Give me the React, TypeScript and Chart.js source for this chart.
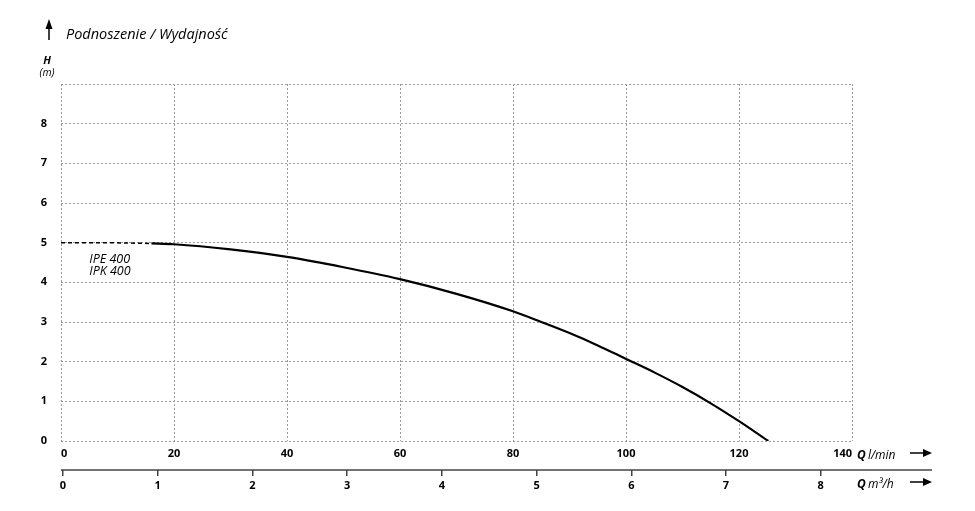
import React, { useEffect, useRef } from "react";
import { Chart, registerables } from "chart.js";

Chart.register(...registerables);

// ---- data ----
const flowLminTicks = [0, 20, 40, 60, 80, 100, 120, 140];
const flowM3hTicks = [0, 1, 2, 3, 4, 5, 6, 7, 8];
const headTicks = [0, 1, 2, 3, 4, 5, 6, 7, 8, 9];
const headTickLabels = ["0", "1", "2", "3", "4", "5", "6", "7", "8", ""];

// dashed (extrapolated) start of the curve
const dashedQ = [0, 8, 16];
const dashedH = [5.0, 5.0, 4.98];

// solid pump curve IPE 400 / IPK 400
const curveQ = [16, 20, 30, 40, 50, 60, 70, 80, 85, 90, 95, 100, 105, 110, 115, 120, 125.2];
const curveH = [4.98, 4.96, 4.83, 4.64, 4.38, 4.08, 3.71, 3.27, 3.0, 2.72, 2.41, 2.07, 1.73, 1.36, 0.95, 0.5, 0];

const titleText = "Podnoszenie / Wydajność";
const curveLabels = ["IPE 400", "IPK 400"];
const axisHLabel = "H";
const axisHUnit = "(m)";
const axisQ1Unit = "l/min";
const axisQ2Unit = "m³/h";

const FONT = '"Open Sans", "DejaVu Sans", sans-serif';

function arrowRight(ctx: CanvasRenderingContext2D, x0: number, x1: number, y: number) {
  ctx.beginPath();
  ctx.lineWidth = 1.5;
  ctx.moveTo(x0, y);
  ctx.lineTo(x1 - 6, y);
  ctx.stroke();
  ctx.beginPath();
  ctx.moveTo(x1, y);
  ctx.lineTo(x1 - 9, y - 4);
  ctx.lineTo(x1 - 9, y + 4);
  ctx.closePath();
  ctx.fill();
}

const annotations = {
  id: "annotations",
  afterDraw(chart: any) {
    const { ctx, chartArea: a, scales } = chart;
    const xs = scales.x;
    const ys = scales.y;
    const x2 = scales.x2;
    ctx.save();
    ctx.fillStyle = "#000";
    ctx.strokeStyle = "#000";

    // title
    ctx.font = `italic 14.5px ${FONT}`;
    ctx.textAlign = "left";
    ctx.textBaseline = "alphabetic";
    ctx.fillText(titleText, a.left + 5, a.top - 45);

    // up arrow
    const ax = a.left - 12;
    ctx.beginPath();
    ctx.lineWidth = 1.5;
    ctx.moveTo(ax, a.top - 44);
    ctx.lineTo(ax, a.top - 58);
    ctx.stroke();
    ctx.beginPath();
    ctx.moveTo(ax, a.top - 65);
    ctx.lineTo(ax - 3.5, a.top - 55);
    ctx.lineTo(ax + 3.5, a.top - 55);
    ctx.closePath();
    ctx.fill();

    // H (m)
    ctx.textAlign = "center";
    ctx.font = `italic bold 11px ${FONT}`;
    ctx.fillText(axisHLabel, a.left - 14, a.top - 20);
    ctx.font = `italic 10.5px ${FONT}`;
    ctx.fillText(axisHUnit, a.left - 14, a.top - 8);

    // curve labels
    ctx.textAlign = "left";
    ctx.font = `italic 12.5px ${FONT}`;
    ctx.fillText(curveLabels[0], xs.getPixelForValue(5), ys.getPixelForValue(4.5));
    ctx.fillText(curveLabels[1], xs.getPixelForValue(5), ys.getPixelForValue(4.19));

    // second axis line (m3/h)
    ctx.beginPath();
    ctx.strokeStyle = "#444";
    ctx.lineWidth = 1.5;
    ctx.moveTo(a.left, x2.top);
    ctx.lineTo(a.right + 80, x2.top);
    ctx.stroke();
    ctx.strokeStyle = "#000";

    // axis unit labels
    const qx = a.right + 5;
    const y1 = a.bottom + 18;
    const y2 = a.bottom + 47;
    ctx.font = `italic bold 12px ${FONT}`;
    ctx.fillText("Q", qx, y1);
    let w = ctx.measureText("Q ").width;
    ctx.font = `italic 12px ${FONT}`;
    ctx.fillText(axisQ1Unit, qx + w - 1, y1);
    ctx.font = `italic bold 12px ${FONT}`;
    ctx.fillText("Q", qx, y2);
    w = ctx.measureText("Q ").width;
    ctx.font = `italic 12px ${FONT}`;
    ctx.fillText(axisQ2Unit, qx + w - 1, y2);

    arrowRight(ctx, a.right + 58, a.right + 80, a.bottom + 12);
    arrowRight(ctx, a.right + 58, a.right + 80, a.bottom + 41);

    ctx.restore();
  },
};

export default function App() {
  const ref = useRef<HTMLCanvasElement>(null);

  useEffect(() => {
    if (!ref.current) return;
    const gridColor = "#9a9a9a";
    const chart = new Chart(ref.current, {
      type: "line",
      data: {
        datasets: [
          {
            data: dashedQ.map((q, i) => ({ x: q, y: dashedH[i] })),
            borderColor: "#000",
            borderWidth: 1.5,
            borderDash: [4, 3],
            pointRadius: 0,
            tension: 0,
            fill: false,
          },
          {
            data: curveQ.map((q, i) => ({ x: q, y: curveH[i] })),
            borderColor: "#000",
            borderWidth: 2.2,
            pointRadius: 0,
            cubicInterpolationMode: "monotone",
            fill: false,
          },
        ],
      },
      options: {
        responsive: false,
        animation: false,
        devicePixelRatio: 1,
        layout: { padding: { top: 84, left: 8, right: 123, bottom: 11 } },
        plugins: {
          legend: { display: false },
          tooltip: { enabled: false },
          title: { display: false },
        },
        scales: {
          x: {
            type: "linear",
            position: "bottom",
            min: 0,
            max: 140,
            afterBuildTicks: (s: any) => {
              s.ticks = flowLminTicks.map((v) => ({ value: v }));
            },
            afterFit: (s: any) => {
              s.height = 29;
            },
            ticks: {
              align: "inner",
              padding: 6,
              color: "#000",
              font: { family: FONT, size: 11, weight: "bold" },
              maxRotation: 0,
            },
            grid: {
              color: gridColor,
              lineWidth: 1,
              drawTicks: false,
            },
            border: { display: false, dash: [2, 2] },
          },
          y: {
            type: "linear",
            position: "left",
            min: 0,
            max: 9,
            afterBuildTicks: (s: any) => {
              s.ticks = headTicks.map((v) => ({ value: v }));
            },
            afterFit: (s: any) => {
              s.width = 53;
            },
            ticks: {
              padding: 14,
              color: "#000",
              font: { family: FONT, size: 11, weight: "bold" },
              callback: (v: any) => headTickLabels[headTicks.indexOf(Number(v))] ?? "",
            },
            grid: {
              color: gridColor,
              lineWidth: 1,
              drawTicks: false,
            },
            border: { display: false, dash: [2, 2] },
          },
          x2: {
            type: "linear",
            axis: "x",
            position: "bottom",
            min: -0.02,
            max: 8.33,
            afterBuildTicks: (s: any) => {
              s.ticks = flowM3hTicks.map((v) => ({ value: v }));
            },
            afterFit: (s: any) => {
              s.height = 30;
            },
            ticks: {
              padding: 3,
              color: "#000",
              font: { family: FONT, size: 11, weight: "bold" },
              maxRotation: 0,
            },
            grid: {
              display: true,
              drawOnChartArea: false,
              drawTicks: true,
              tickLength: 6,
              color: "#444",
              lineWidth: 1.5,
            },
            border: { display: false },
          },
        },
      } as any,
      plugins: [annotations],
    });
    return () => chart.destroy();
  }, []);

  return (
    <div style={{ position: "absolute", left: 0, top: 0, width: 975, height: 511, background: "#fff" }}>
      <canvas ref={ref} width={975} height={511} style={{ display: "block" }} />
    </div>
  );
}
